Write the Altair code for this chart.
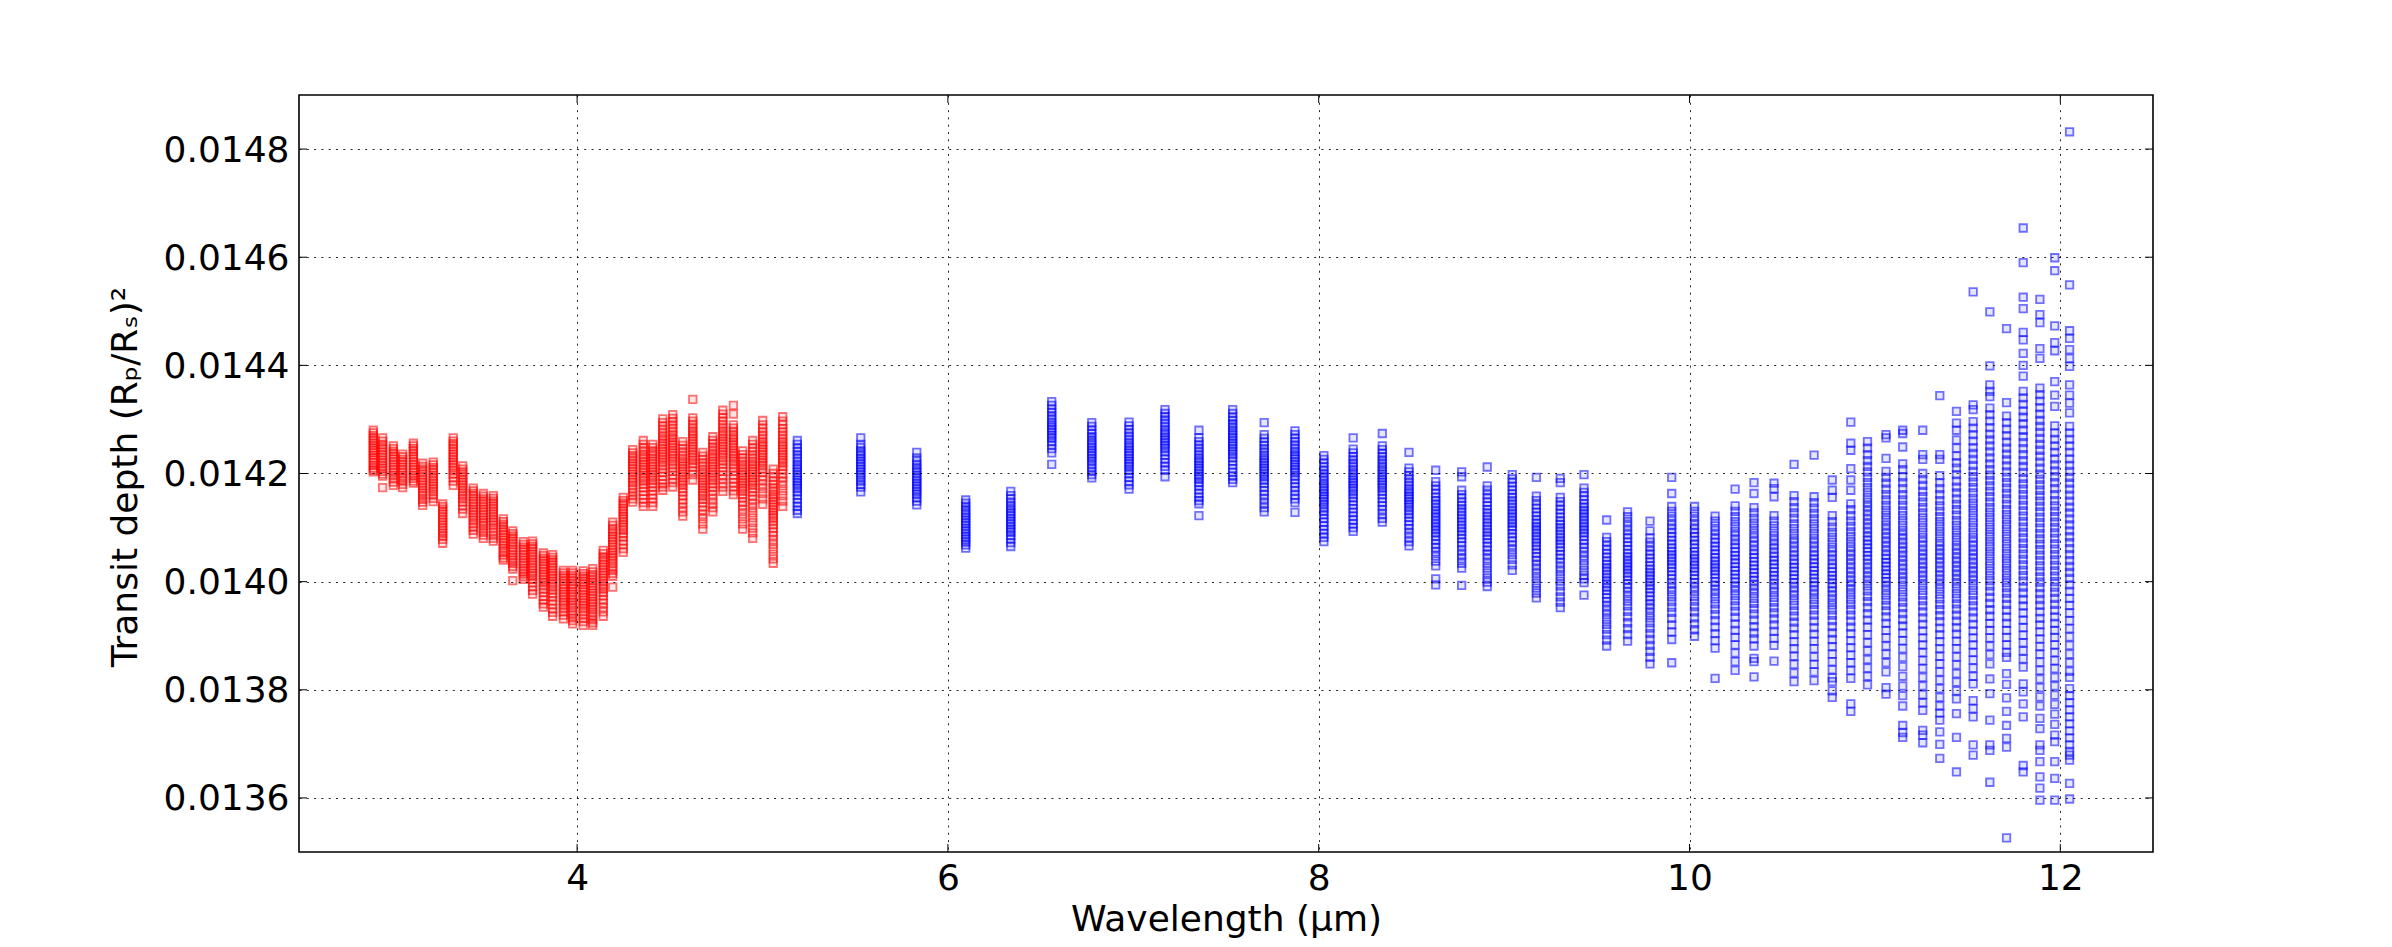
import altair as alt
import pandas as pd

FONT = "DejaVu Sans"

# tick values
x_ticks = [4, 6, 8, 10, 12]
y_ticks = [0.0136, 0.0138, 0.0140, 0.0142, 0.0144, 0.0146, 0.0148]

# wavelength of each red (short-wave) column, in micron
red_x = [2.901, 2.951, 3.009, 3.059, 3.117, 3.167, 3.224, 3.275, 3.332, 3.383,
         3.440, 3.494, 3.548, 3.602, 3.653, 3.710, 3.760, 3.818, 3.868, 3.926,
         3.976, 4.033, 4.084, 4.141, 4.192, 4.249, 4.300, 4.357, 4.408, 4.462,
         4.516, 4.570, 4.624, 4.678, 4.732, 4.786, 4.843, 4.893, 4.947, 5.001,
         5.058, 5.109]

# samples of each red column: transit depth = 0.0140 + value * 1e-6
red_y = [
    [280, 275, 270, 265, 261, 256, 252, 247, 243, 238, 234, 229, 225, 220, 215, 210, 206, 203],
    [266, 260, 254, 249, 244, 239, 234, 229, 224, 219, 214, 209, 204, 199, 195, 174],
    [251, 246, 241, 236, 231, 226, 221, 216, 211, 206, 201, 196, 190, 184, 178],
    [236, 231, 226, 221, 216, 211, 206, 201, 196, 191, 186, 180, 174],
    [256, 251, 246, 241, 236, 231, 226, 221, 216, 211, 206, 201, 196, 191, 186, 182],
    [219, 213, 208, 203, 198, 193, 188, 183, 178, 173, 168, 163, 158, 152, 147, 141],
    [221, 216, 211, 206, 201, 196, 191, 186, 181, 176, 171, 166, 160, 154, 148],
    [144, 139, 134, 129, 124, 119, 114, 109, 104, 99, 94, 89, 84, 78, 71],
    [266, 260, 255, 250, 245, 240, 235, 230, 225, 220, 215, 210, 205, 199, 193, 186, 178],
    [214, 208, 203, 198, 193, 188, 183, 178, 173, 168, 163, 158, 153, 147, 141, 134, 126],
    [173, 168, 163, 158, 153, 148, 143, 138, 133, 128, 123, 118, 113, 107, 101, 95, 88],
    [163, 158, 153, 148, 143, 138, 133, 128, 123, 118, 113, 108, 103, 97, 91, 86, 80],
    [159, 154, 149, 144, 139, 134, 129, 124, 119, 114, 109, 104, 98, 92, 86, 80, 75],
    [116, 111, 106, 101, 96, 91, 86, 81, 76, 71, 66, 61, 55, 49, 44, 40],
    [94, 89, 84, 79, 74, 69, 64, 59, 54, 49, 44, 39, 34, 28, 23, 2],
    [74, 69, 64, 59, 54, 49, 44, 39, 34, 29, 24, 19, 14, 9, 4],
    [75, 70, 65, 60, 55, 50, 45, 40, 35, 30, 25, 20, 15, 10, 4, -2, -9, -16, -23],
    [53, 48, 43, 38, 33, 28, 23, 18, 13, 8, 3, -2, -8, -14, -20, -27, -34, -41, -47],
    [50, 45, 40, 35, 30, 25, 20, 15, 10, 5, 0, -5, -10, -16, -22, -28, -35, -42, -50, -57, -64],
    [21, 16, 11, 6, 1, -4, -9, -14, -19, -24, -29, -34, -39, -44, -50, -56, -62, -69],
    [21, 16, 11, 6, 1, -4, -9, -14, -19, -24, -29, -34, -39, -44, -49, -55, -61, -67, -72, -78],
    [20, 15, 10, 5, 0, -5, -10, -15, -20, -25, -30, -35, -40, -45, -50, -56, -62, -68, -74, -81],
    [24, 18, 13, 8, 3, -2, -7, -12, -17, -22, -27, -32, -37, -42, -47, -52, -58, -64, -70, -76, -81],
    [58, 52, 46, 41, 36, 31, 26, 21, 16, 11, 6, 1, -4, -9, -14, -20, -26, -33, -40, -48, -56, -64],
    [110, 104, 98, 93, 88, 83, 78, 73, 68, 63, 58, 53, 48, 43, 38, 33, 27, 21, 15, 10, -10],
    [156, 150, 145, 140, 135, 130, 125, 120, 115, 110, 105, 100, 95, 89, 83, 76, 69, 61, 54],
    [244, 238, 233, 228, 223, 218, 213, 208, 203, 198, 193, 188, 183, 177, 171, 165, 159, 153, 147],
    [261, 254, 248, 242, 236, 231, 226, 221, 216, 211, 206, 201, 196, 191, 186, 180, 174, 167, 160, 153, 146, 139],
    [254, 248, 242, 237, 232, 227, 222, 217, 212, 207, 202, 197, 192, 187, 181, 175, 168, 161, 154, 146, 139],
    [301, 294, 288, 282, 276, 270, 265, 260, 255, 250, 245, 240, 235, 230, 225, 220, 214, 208, 202, 195, 188, 181, 175, 169],
    [309, 302, 296, 290, 284, 278, 272, 267, 262, 257, 252, 247, 242, 237, 232, 227, 222, 216, 210, 204, 197, 190, 183, 175],
    [259, 252, 246, 240, 234, 228, 223, 218, 213, 208, 203, 198, 193, 188, 183, 178, 172, 166, 159, 152, 145, 137, 129, 121],
    [337, 303, 297, 291, 285, 279, 274, 269, 264, 259, 254, 249, 244, 239, 234, 229, 224, 218, 212, 205, 198, 188],
    [239, 232, 226, 220, 214, 208, 203, 198, 193, 188, 183, 178, 173, 168, 163, 158, 152, 146, 139, 132, 124, 116, 107, 97],
    [268, 261, 255, 249, 243, 237, 232, 227, 222, 217, 212, 207, 202, 197, 192, 187, 181, 175, 168, 161, 153, 145, 137, 129],
    [317, 310, 303, 297, 291, 285, 279, 274, 269, 264, 259, 254, 249, 244, 239, 234, 229, 223, 217, 211, 204, 197, 190, 182, 175, 167],
    [326, 310, 290, 284, 278, 272, 267, 262, 257, 252, 247, 242, 237, 232, 227, 222, 216, 210, 204, 197, 190, 183, 176, 168, 161],
    [242, 235, 229, 223, 217, 212, 207, 202, 197, 192, 187, 182, 177, 172, 167, 161, 155, 148, 141, 133, 125, 116, 107, 97],
    [261, 254, 247, 241, 235, 229, 223, 218, 213, 208, 203, 198, 193, 188, 183, 178, 172, 166, 159, 152, 144, 136, 127, 118, 109, 99, 90, 80],
    [298, 290, 283, 277, 271, 265, 259, 254, 249, 244, 239, 234, 229, 224, 219, 214, 208, 202, 195, 188, 180, 172, 163, 153, 143],
    [208, 200, 193, 186, 180, 174, 168, 162, 157, 152, 147, 142, 137, 132, 127, 122, 117, 111, 105, 99, 92, 85, 77, 69, 60, 51, 42, 34],
    [305, 297, 290, 283, 277, 271, 265, 259, 254, 249, 244, 239, 234, 229, 224, 219, 213, 207, 200, 193, 185, 177, 168, 159, 149, 139],
]

# wavelength of each blue (long-wave) column, in micron
blue_x = [5.188, 5.530, 5.832, 6.096, 6.339, 6.560, 6.776, 6.977, 7.171, 7.354,
          7.536, 7.706, 7.872, 8.028, 8.186, 8.343, 8.487, 8.631, 8.771, 8.909,
          9.044, 9.174, 9.303, 9.431, 9.553, 9.666, 9.787, 9.904, 10.027, 10.138,
          10.246, 10.348, 10.456, 10.564, 10.672, 10.770, 10.870, 10.960, 11.060, 11.150,
          11.258, 11.350, 11.440, 11.530, 11.620, 11.710, 11.800, 11.890, 11.970, 12.050]

# samples of each blue column: transit depth = 0.0140 + value * 1e-6
blue_y = [
    [261, 254, 247, 241, 235, 229, 223, 217, 212, 207, 202, 197, 192, 187, 182, 177, 172, 166, 160, 153, 146, 139, 132, 126],
    [266, 254, 248, 242, 237, 232, 227, 222, 217, 212, 207, 202, 197, 192, 186, 180, 175, 166],
    [239, 229, 223, 217, 211, 206, 201, 196, 191, 186, 181, 176, 171, 166, 161, 155, 149, 142],
    [151, 145, 139, 133, 128, 123, 118, 113, 108, 103, 98, 93, 88, 83, 78, 73, 68, 62],
    [167, 159, 153, 147, 141, 136, 131, 126, 121, 116, 111, 106, 101, 96, 91, 85, 79, 72, 65],
    [333, 326, 319, 313, 307, 301, 295, 290, 285, 280, 275, 270, 265, 259, 253, 246, 238, 217],
    [294, 287, 280, 274, 268, 262, 257, 252, 247, 242, 237, 232, 227, 222, 216, 210, 204, 198, 192],
    [295, 288, 281, 275, 269, 263, 257, 252, 247, 242, 237, 232, 227, 222, 217, 212, 206, 200, 193, 186, 179, 171],
    [318, 311, 305, 299, 293, 287, 281, 276, 271, 266, 261, 256, 251, 246, 240, 234, 227, 220, 213, 206, 194],
    [280, 266, 259, 253, 247, 241, 235, 229, 224, 219, 214, 209, 204, 199, 194, 189, 183, 177, 170, 163, 156, 150, 144, 122],
    [318, 311, 304, 298, 292, 286, 280, 275, 270, 265, 260, 255, 250, 245, 240, 235, 229, 223, 216, 209, 202, 195, 189, 183],
    [294, 272, 265, 258, 252, 246, 240, 234, 229, 224, 219, 214, 209, 204, 199, 194, 188, 182, 175, 168, 161, 153, 145, 137, 129],
    [279, 272, 265, 259, 253, 247, 241, 236, 231, 226, 221, 216, 211, 206, 201, 195, 189, 182, 175, 168, 160, 153, 146, 128],
    [233, 226, 219, 212, 206, 200, 194, 188, 182, 177, 172, 167, 162, 157, 152, 147, 142, 136, 130, 124, 117, 110, 103, 96, 89, 82, 74],
    [266, 245, 238, 231, 225, 219, 213, 207, 202, 197, 192, 187, 182, 177, 172, 167, 161, 155, 149, 142, 135, 128, 121, 114, 107, 100, 93],
    [274, 251, 244, 237, 231, 225, 219, 213, 208, 203, 198, 193, 188, 183, 178, 173, 167, 161, 154, 147, 140, 133, 125, 117, 110],
    [239, 210, 203, 196, 190, 184, 178, 172, 167, 162, 157, 152, 147, 142, 137, 131, 125, 119, 112, 105, 98, 90, 82, 74, 66],
    [206, 185, 177, 170, 163, 156, 150, 144, 138, 132, 126, 120, 114, 108, 102, 96, 90, 84, 77, 70, 63, 55, 47, 38, 29, 5, -6],
    [203, 194, 169, 161, 154, 147, 141, 135, 129, 123, 117, 111, 105, 99, 93, 87, 80, 73, 66, 58, 50, 42, 34, 25, -7],
    [212, 177, 169, 161, 154, 147, 140, 133, 127, 121, 115, 109, 103, 97, 91, 85, 79, 72, 65, 58, 50, 42, 34, 25, 16, 7, -1, -9],
    [198, 190, 183, 176, 169, 162, 156, 150, 144, 138, 132, 126, 120, 114, 108, 102, 96, 89, 82, 75, 67, 59, 50, 41, 31, 21],
    [193, 158, 150, 142, 135, 128, 121, 114, 108, 102, 96, 90, 84, 78, 72, 66, 60, 53, 46, 39, 31, 23, 15, 6, -3, -12, -21, -30],
    [191, 183, 156, 148, 140, 133, 126, 119, 112, 106, 100, 94, 88, 82, 76, 70, 64, 57, 50, 43, 35, 27, 19, 10, 1, -8, -18, -28, -38, -48],
    [198, 173, 165, 158, 151, 144, 138, 132, 126, 120, 114, 108, 102, 96, 90, 84, 77, 70, 63, 55, 47, 39, 30, 21, 12, 5, -2, -25],
    [114, 82, 74, 66, 59, 52, 45, 38, 32, 26, 20, 14, 8, 2, -4, -10, -16, -23, -30, -37, -45, -53, -61, -70, -79, -88, -98, -108, -119],
    [129, 120, 111, 103, 95, 87, 80, 73, 66, 59, 52, 46, 40, 34, 28, 22, 16, 10, 3, -4, -11, -19, -27, -36, -45, -55, -65, -76, -87, -98, -110],
    [112, 94, 81, 73, 65, 57, 50, 43, 36, 29, 23, 17, 11, 5, -1, -7, -13, -20, -27, -34, -42, -50, -58, -67, -76, -86, -96, -107, -118, -129, -140, -152],
    [193, 163, 139, 130, 121, 113, 105, 97, 90, 83, 76, 69, 62, 56, 50, 44, 38, 32, 26, 19, 12, 5, -3, -11, -19, -28, -37, -47, -57, -68, -80, -93, -107, -150],
    [139, 130, 121, 113, 105, 97, 90, 83, 76, 69, 62, 55, 49, 43, 37, 31, 25, 19, 12, 5, -2, -10, -18, -27, -36, -46, -56, -67, -78, -89, -101],
    [121, 112, 103, 95, 87, 79, 72, 65, 58, 51, 44, 38, 32, 26, 20, 14, 7, 0, -7, -15, -23, -32, -41, -51, -61, -72, -84, -96, -109, -123, -179],
    [171, 140, 130, 120, 111, 102, 93, 85, 77, 69, 62, 55, 48, 41, 34, 27, 20, 13, 6, -1, -9, -17, -26, -35, -45, -55, -66, -78, -90, -103, -117, -132, -148, -164],
    [183, 163, 137, 127, 117, 108, 99, 90, 82, 74, 66, 58, 51, 44, 37, 30, 23, 16, 9, 2, -6, -14, -22, -31, -40, -50, -60, -71, -83, -95, -106, -119, -142, -148, -176],
    [182, 172, 157, 122, 112, 103, 94, 85, 77, 69, 61, 53, 46, 39, 32, 25, 18, 11, 4, -4, -12, -20, -29, -38, -48, -58, -69, -80, -92, -105, -118, -147],
    [217, 159, 148, 137, 127, 117, 107, 98, 89, 80, 72, 64, 56, 48, 40, 33, 26, 19, 12, 5, -2, -10, -18, -26, -35, -44, -54, -64, -75, -86, -98, -111, -124, -138, -153, -169, -185],
    [234, 157, 146, 136, 126, 116, 107, 98, 89, 80, 72, 64, 56, 48, 41, 34, 27, 20, 13, 6, -1, -8, -16, -24, -33, -42, -52, -62, -73, -85, -97, -110, -124, -139, -153, -167, -183],
    [188, 169, 156, 122, 111, 101, 91, 82, 73, 64, 56, 48, 40, 32, 25, 18, 11, 4, -3, -10, -18, -26, -34, -43, -52, -62, -72, -83, -95, -107, -120, -134, -148, -163, -178, -185, -202, -214],
    [295, 256, 243, 209, 188, 169, 144, 133, 122, 112, 102, 92, 83, 74, 65, 57, 49, 41, 33, 25, 17, 9, 1, -7, -15, -24, -33, -42, -52, -62, -73, -84, -96, -109, -122, -136, -150, -164, -179, -226, -240],
    [259, 247, 235, 224, 213, 203, 193, 183, 174, 165, 156, 147, 139, 131, 123, 115, 107, 99, 91, 83, 76, 69, 62, 55, 48, 41, 33, 25, 17, 9, 1, -8, -17, -27, -37, -48, -59, -71, -84, -98, -113, -128, -144, -160, -175, -191],
    [272, 266, 228, 204, 193, 182, 171, 161, 151, 141, 132, 123, 114, 105, 97, 89, 81, 73, 65, 57, 49, 42, 35, 28, 21, 14, 7, 0, -8, -16, -25, -34, -44, -54, -65, -77, -90, -104, -119, -134, -150, -167, -196, -208],
    [280, 274, 249, 218, 207, 194, 183, 172, 161, 151, 141, 131, 122, 113, 104, 95, 87, 79, 71, 63, 55, 47, 39, 31, 23, 15, 7, -1, -10, -19, -28, -38, -48, -59, -70, -82, -95, -109, -124, -140, -157, -175, -193, -211, -230, -266, -279, -288],
    [280, 235, 226, 200, 189, 178, 167, 157, 147, 137, 127, 118, 109, 100, 91, 82, 74, 66, 58, 50, 42, 34, 26, 18, 10, 2, -7, -16, -25, -35, -45, -56, -67, -79, -91, -104, -117, -131, -146, -161, -177, -193, -209, -224, -238, -275, -284, -298],
    [344, 235, 226, 196, 183, 172, 161, 150, 140, 130, 120, 111, 102, 93, 84, 75, 67, 59, 51, 43, 35, 27, 19, 11, 3, -5, -14, -23, -32, -42, -52, -63, -74, -86, -98, -111, -124, -138, -152, -167, -182, -198, -214, -230, -243, -256, -278, -301, -327],
    [315, 293, 280, 262, 247, 232, 220, 210, 198, 186, 175, 164, 153, 143, 133, 123, 113, 104, 95, 86, 77, 68, 60, 52, 44, 36, 28, 20, 12, 4, -4, -13, -22, -31, -41, -51, -62, -73, -85, -97, -110, -124, -139, -154, -170, -186, -202, -217, -244, -288, -352],
    [536, 327, 318, 296, 284, 272, 260, 248, 237, 226, 215, 204, 194, 184, 174, 164, 154, 145, 136, 127, 118, 109, 100, 91, 82, 74, 66, 58, 50, 42, 34, 26, 18, 10, 2, -7, -16, -25, -35, -45, -56, -67, -79, -91, -104, -117, -131, -145, -160, -175, -189, -220, -235, -250, -302, -321],
    [499, 399, 364, 352, 342, 321, 309, 297, 285, 273, 262, 251, 240, 229, 218, 207, 197, 187, 177, 167, 157, 147, 137, 128, 119, 110, 101, 92, 83, 74, 65, 56, 47, 38, 29, 20, 11, 2, -8, -18, -29, -40, -52, -64, -77, -90, -104, -119, -135, -152, -180, -207, -256, -302, -312, -371],
    [468, 331, 306, 294, 282, 270, 258, 247, 236, 225, 214, 203, 193, 183, 173, 163, 153, 143, 133, 124, 115, 106, 97, 88, 79, 70, 61, 52, 43, 34, 25, 16, 7, -2, -11, -21, -31, -42, -53, -65, -77, -90, -103, -117, -131, -140, -170, -190, -215, -240, -266, -290, -306, -474],
    [654, 590, 526, 505, 461, 447, 422, 400, 380, 352, 340, 328, 316, 304, 292, 280, 268, 257, 246, 235, 224, 213, 202, 191, 181, 171, 161, 151, 141, 131, 121, 111, 101, 91, 81, 71, 61, 51, 41, 31, 21, 11, 1, -10, -21, -33, -45, -58, -71, -85, -99, -113, -128, -143, -158, -189, -204, -226, -250, -340, -352],
    [522, 494, 479, 431, 413, 358, 346, 334, 322, 310, 298, 287, 276, 265, 254, 243, 232, 221, 210, 199, 189, 179, 169, 159, 149, 139, 129, 119, 109, 99, 89, 79, 69, 59, 49, 39, 29, 19, 9, -1, -11, -22, -33, -44, -56, -68, -80, -93, -106, -120, -134, -149, -164, -180, -196, -213, -230, -253, -272, -302, -312, -333, -361, -382, -404],
    [599, 575, 473, 442, 427, 370, 345, 324, 288, 275, 263, 251, 239, 227, 216, 205, 194, 183, 172, 161, 150, 140, 130, 120, 110, 100, 90, 80, 70, 60, 50, 40, 30, 20, 10, 0, -10, -20, -31, -42, -53, -65, -77, -90, -103, -117, -131, -146, -161, -177, -193, -210, -227, -245, -264, -284, -296, -333, -364, -404],
    [832, 549, 464, 450, 429, 413, 398, 364, 345, 330, 312, 287, 275, 263, 251, 239, 227, 215, 204, 193, 182, 171, 160, 149, 138, 127, 116, 105, 94, 83, 72, 61, 50, 39, 28, 17, 6, -6, -18, -31, -44, -58, -72, -87, -102, -118, -134, -150, -166, -177, -198, -211, -224, -237, -250, -263, -276, -289, -302, -314, -321, -330, -373, -402],
]

assert len(red_x) == len(red_y)
assert len(blue_x) == len(blue_y)

rows = []
for xs, ys, name in ((red_x, red_y, "red"), (blue_x, blue_y, "blue")):
    for wl, col in zip(xs, ys):
        for v in col:
            rows.append({"wavelength": wl, "depth": 0.014 + v * 1e-6, "series": name})
df = pd.DataFrame(rows)

W, H = 1854, 757
xscale = alt.Scale(domain=[2.5, 12.5], nice=False, zero=False)
yscale = alt.Scale(domain=[0.0135, 0.0149], nice=False, zero=False)

x_axis = alt.Axis(
    values=x_ticks, format="d", title="Wavelength (μm)",
    grid=True, gridColor="black", gridDash=[2, 5.3], gridWidth=1, gridOpacity=0.85,
    ticks=False, tickSize=0, domain=False,
    labelFont=FONT, labelFontSize=36, labelColor="black", labelPadding=37,
    labelBaseline="alphabetic", labelAlign="center", labelFlush=False, labelOverlap=False,
    titleFont=FONT, titleFontSize=36, titleFontWeight="normal", titleColor="black",
    titleX=W / 2, titleY=78, titleBaseline="alphabetic", titleAlign="center",
    zindex=1,
)
y_axis = alt.Axis(
    values=y_ticks, format=".4f", title="Transit depth (Rₚ/Rₛ)²",
    grid=True, gridColor="black", gridDash=[2, 5.3], gridWidth=1, gridOpacity=0.85,
    ticks=False, tickSize=0, domain=False,
    labelFont=FONT, labelFontSize=36, labelColor="black", labelPadding=10,
    labelBaseline="alphabetic", labelOffset=12, labelAlign="right", labelFlush=False, labelOverlap=False,
    titleFont=FONT, titleFontSize=36, titleFontWeight="normal", titleColor="black",
    titleX=-163, titleY=H / 2 + 3, titleAngle=270, titleBaseline="alphabetic", titleAlign="center",
    zindex=1,
)

X = alt.X("wavelength:Q", scale=xscale, axis=x_axis, title="Wavelength (μm)")
Y = alt.Y("depth:Q", scale=yscale, axis=y_axis, title="Transit depth (Rₚ/Rₛ)²")

series_scale = alt.Scale(domain=["red", "blue"], range=["#ff0000", "#0000ff"])
points = alt.Chart(df).mark_point(
    shape="square", filled=False, size=56, strokeWidth=1.8, strokeOpacity=0.55, fillOpacity=0.1
).encode(
    x=X, y=Y,
    stroke=alt.Stroke("series:N", scale=series_scale, legend=None),
    fill=alt.Fill("series:N", scale=series_scale, legend=None),
)

xt = pd.DataFrame({"wavelength": x_ticks})
yt = pd.DataFrame({"depth": y_ticks})
tick_len = 8
x_bottom = alt.Chart(xt).mark_rule(color="black", strokeWidth=1).encode(
    x=X, y=alt.value(H), y2=alt.value(H - tick_len))
x_top = alt.Chart(xt).mark_rule(color="black", strokeWidth=1).encode(
    x=X, y=alt.value(0), y2=alt.value(tick_len))
y_left = alt.Chart(yt).mark_rule(color="black", strokeWidth=1).encode(
    y=Y, x=alt.value(0), x2=alt.value(tick_len))
y_right = alt.Chart(yt).mark_rule(color="black", strokeWidth=1).encode(
    y=Y, x=alt.value(W), x2=alt.value(W - tick_len))

chart = alt.layer(points, x_bottom, x_top, y_left, y_right).properties(
    width=W, height=H,
    autosize=alt.AutoSizeParams(type="none"),
    padding={"left": 291, "top": 87, "right": 231, "bottom": 87},
    background="white",
).configure_view(stroke="black", strokeWidth=1.6)

chart.save("out.html", embed_options={"renderer": "svg", "actions": False})
